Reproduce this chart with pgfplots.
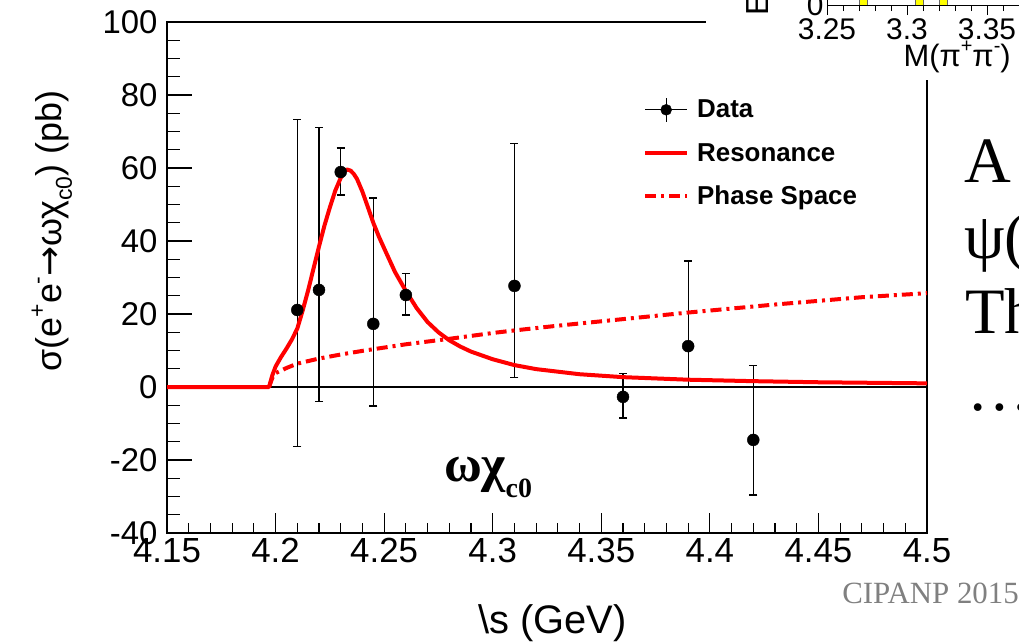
\documentclass[border=0pt]{standalone}
\usepackage{fontspec}
\setmainfont{Liberation Sans}
\newfontfamily\serif{Liberation Serif}
\newfontfamily\dejavu{DejaVu Sans}
\usepackage{pgfplots}
\pgfplotsset{compat=1.18}
\definecolor{rred}{RGB}{255,0,0}
\definecolor{cipgray}{RGB}{128,128,128}
\definecolor{hyellow}{RGB}{255,255,0}
\newcommand{\fs}[1]{\fontsize{#1}{#1}\selectfont}
\newcommand{\sups}[3]{\raisebox{#2}{\fs{#1}#3}}

\begin{document}
\begin{tikzpicture}
\useasboundingbox (0bp,0bp) rectangle (1019bp,-642bp);
\begin{axis}[
  at={(167bp,-533bp)}, anchor=south west,
  scale only axis, width=760bp, height=511bp,
  xmin=4.15, xmax=4.5, ymin=-40, ymax=100,
  xtick={4.15,4.2,4.25,4.3,4.35,4.4,4.45,4.5},
  xticklabels={4.15,4.2,4.25,4.3,4.35,4.4,4.45,4.5},
  ytick={-40,-20,0,20,40,60,80,100},
  minor x tick num=4, minor y tick num=3,
  xtick pos=bottom, ytick pos=left, tick align=inside,
  major tick length=25bp, minor tick length=13bp,
  xtick style={/pgfplots/major tick length=20bp, /pgfplots/minor tick length=10bp},
  tick style={black, line width=1.2bp},
  axis line style={black, line width=1.3bp},
  /pgf/number format/assume math mode=true,
  yticklabel style={font=\fs{33}, xshift=-6bp},
  xticklabel style={font=\fs{35}, yshift=-2bp},
  legend style={at={(rel axis cs:0.6263,0.8532)}, anchor=north west, draw=none, fill=none,
    inner sep=0pt, font=\fs{26}\bfseries, row sep=19bp, column sep=6bp},
  legend cell align=left,
  legend image code/.code={\draw[#1] (0bp,0bp) -- (42bp,0bp);},
]
\addplot[black, line width=2bp, forget plot] coordinates {(4.15,0) (4.5,0)};
\addplot[black, only marks, mark=*, mark size=6bp,
  legend image code/.code={
    \draw[black,line width=1.2bp] (0bp,0bp) -- (42bp,0bp);
    \draw[black,line width=1.2bp] (21bp,-12bp) -- (21bp,12bp);
    \fill[black] (21bp,0bp) circle (5.5bp);},
  error bars/.cd, y dir=both, y explicit,
  error bar style={line width=1.2bp, black},
  error mark options={line width=1.2bp, mark size=4bp, rotate=90}]
  table[x=x, y=y, y error plus=ep, y error minus=em] {
x y ep em
4.21 21.1 52.1 37.3
4.22 26.6 44.4 30.6
4.23 58.9 6.6 6.3
4.245 17.3 34.5 22.5
4.26 25.2 5.8 5.5
4.31 27.7 39.1 25.2
4.36 -2.7 6.5 5.8
4.39 11.2 23.3 11.2
4.42 -14.5 20.5 15.1
};
\addlegendentry{Data}
\addplot[rred, line width=4bp, line join=round] coordinates {
(4.15,0) (4.197,0) (4.1985,3.2) (4.2,5.6) (4.2025,8.2) (4.205,10.5) (4.2075,13)
(4.21,16) (4.2125,21) (4.215,26.5) (4.2175,32.5) (4.22,38.5) (4.2225,44.2)
(4.225,49.2) (4.2275,53.8) (4.23,57.3) (4.2315,59) (4.2328,59.6) (4.2345,59.3)
(4.236,58.4) (4.2375,57) (4.24,53.5) (4.2425,49.3) (4.245,45) (4.2475,41.3)
(4.25,38) (4.255,31.5) (4.26,26.3) (4.265,21.6) (4.27,17.8) (4.275,15)
(4.28,12.8) (4.285,11.1) (4.29,9.7) (4.30,7.6) (4.31,6.0) (4.32,4.9)
(4.34,3.5) (4.36,2.7) (4.39,2.0) (4.42,1.6) (4.45,1.3) (4.5,1.0)};
\addlegendentry{Resonance}
\addplot[rred, line width=4bp, dash pattern=on 11bp off 5bp on 3bp off 5bp] coordinates {
(4.197,0) (4.1985,2.5) (4.2,3.8) (4.205,5.2) (4.21,6.4) (4.22,7.8) (4.23,8.9)
(4.24,9.9) (4.26,11.7) (4.28,13.2) (4.30,14.8) (4.31,15.5) (4.33,16.8)
(4.35,18.0) (4.37,19.2) (4.39,20.4) (4.41,21.5) (4.43,22.6) (4.45,23.6)
(4.47,24.6) (4.5,25.7)};
\addlegendentry{Phase Space}
\end{axis}

% axis titles
\node[rotate=90, anchor=base, font=\fs{36}] at (61bp,-231bp)
  {σ(e\sups{23}{0.45em}{+}e\sups{23}{0.45em}{-}{\dejavu\fs{36}→}ωχ\sups{23}{-0.3em}{c0}) (pb)};
\node[anchor=base east, font=\fs{40}] at (630bp,-633bp) {\textbackslash s (GeV)};
\node[anchor=base west, font=\serif\bfseries\fs{52}] at (441bp,-481bp)
  {ωχ\raisebox{-16bp}{\fs{28}c0}};

% inset fragment (top right)
\fill[white] (706bp,0bp) rectangle (1019bp,-80bp);
\begin{axis}[
  at={(827bp,-5bp)}, anchor=south west,
  scale only axis, width=240bp, height=100bp,
  xmin=3.25, xmax=3.4, ymin=0, ymax=10,
  axis x line*=bottom, axis y line*=left,
  xtick={3.25,3.3,3.35,3.4}, xticklabels={3.25,3.3,3.35,3.4},
  ytick={0}, minor x tick num=4, tick align=inside,
  major tick length=10bp, minor tick length=6bp,
  tick style={black, line width=0.8bp},
  axis line style={black, line width=1bp},
  /pgf/number format/assume math mode=true,
  tick label style={font=\fs{30}},
  ybar, bar width=8bp,
]
\addplot[fill=hyellow, draw=black!60, line width=0.6bp] coordinates {(3.2725,20) (3.3075,20) (3.3225,20)};
\end{axis}
\node[anchor=base west, font=\fs{31}] at (900bp,-66bp)
  {M(π\sups{20}{0.45em}{+}π\sups{20}{0.45em}{-})};
\node[rotate=90, anchor=base west, font=\fs{32}] at (768bp,-19bp) {Events};

% slide text
\node[anchor=base west, inner sep=0pt, font=\serif\fs{65}] at (964bp,-182bp) {A};
\node[anchor=base west, inner sep=0pt, font=\serif\fs{65}] at (964bp,-258bp) {ψ(};
\node[anchor=base west, inner sep=0pt, font=\serif\fs{65}] at (965bp,-333bp) {Th};
\node[anchor=base west, inner sep=0pt, font=\serif\fs{65}] at (967bp,-410bp) {…};
\node[anchor=base east, inner sep=0pt, font=\serif\fs{31}, text=cipgray] at (1019bp,-603bp) {CIPANP 2015};
\end{tikzpicture}
\end{document}
